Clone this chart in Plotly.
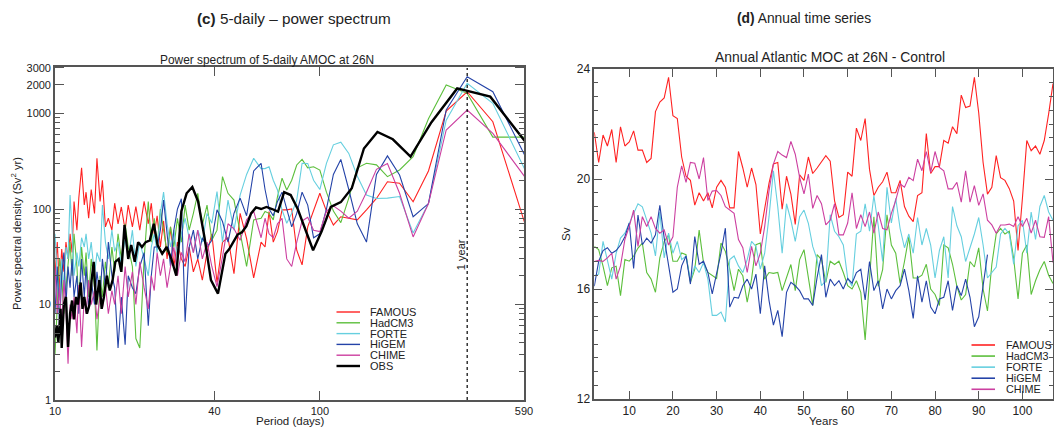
import math
import plotly.graph_objects as go

# ---------------- Panel (c): power spectra ----------------
obs_period = [10, 10.15, 10.3, 10.5, 10.6, 10.8, 11, 11.2, 11.4, 11.6, 11.8, 12,
              12.2, 12.5, 12.7, 12.9, 13.2, 13.5, 13.75, 14, 14.3, 14.7,
              15, 15.3, 15.7, 16.1, 16.5, 16.9, 17.4, 17.8, 18.3, 18.9,
              19.4, 20, 20.6, 21.3, 22, 22.8, 23.6, 24.4, 25.4, 26.4,
              27.5, 28.7, 30, 31.4, 33, 34.7, 36.7, 38.8, 41.25, 44,
              45.5, 47.1, 48.9, 50.8, 52.8, 55, 57.4, 60, 62.9, 66,
              69.5, 73.3, 77.6, 82.5, 88, 94.3, 101.5, 110, 120, 132,
              146.7, 165, 188.6, 220, 264, 330, 440, 660]
obs_psd = [4.5, 6, 4, 9, 3.5, 10, 12, 3.6, 8, 11, 7, 12,
           10, 17, 9, 12, 8, 10, 18, 28, 10, 18,
           9, 12, 20, 14, 18, 28, 30, 22, 68, 30,
           42, 28, 45, 40, 45, 47, 70, 42, 34, 40,
           30, 20, 95, 146, 170, 120, 50, 18, 13, 34,
           38, 45, 54, 57, 66, 90, 104, 100, 105, 100,
           94, 150, 140, 100, 62, 37, 58, 105, 118, 165,
           430, 640, 537, 353, 810, 1830, 1500, 354]

model_period = [10.0, 10.2, 10.4, 10.6, 10.8, 11.0, 11.2, 11.4, 11.6, 11.8,
                12.1, 12.3, 12.6, 12.9, 13.1, 13.4, 13.7, 14.1, 14.4, 14.8,
                15.1, 15.5, 15.9, 16.4, 16.8, 17.3, 17.8, 18.4, 18.9, 19.6,
                20.2, 20.9, 21.7, 22.5, 23.1, 23.7, 24.3, 25.0, 25.7, 26.5,
                27.3, 28.1, 29.0, 30.0, 31.0, 32.1, 33.3, 34.6, 36.0, 37.5,
                39.1, 40.9, 42.9, 45.0, 47.4, 50.0, 52.9, 56.25, 60.0, 62.1,
                64.3, 66.7, 69.2, 72.0, 75.0, 78.3, 81.8, 85.7, 90.0, 94.7,
                100.0, 105.9, 112.5, 120.0, 128.6, 138.5, 150.0, 163.6, 180.0, 200.0,
                225.0, 257.1, 300.0, 360.0, 450.0, 600.0]

famous_psd = [20, 45, 14, 38, 22, 45, 30, 55, 35, 120,
              60, 130, 270, 110, 150, 80, 160, 90, 340, 120,
              200, 65, 80, 60, 115, 70, 105, 60, 110, 65,
              106, 60, 120, 70, 115, 55, 85, 40, 75, 30,
              65, 25, 45, 30, 25, 40, 22, 30, 18, 35,
              55, 17, 45, 50, 21, 90, 49, 19, 45, 40,
              94, 45, 58, 98, 98, 100, 37, 26, 65, 98,
              146, 95, 68, 83, 80, 77, 98, 129, 193, 186,
              119, 250, 1060, 1690, 820, 65]

hadcm3_psd = [3, 10, 30, 20, 8, 15, 25, 45, 20, 55,
              25, 10, 40, 20, 35, 12, 30, 15, 3.3, 20,
              12, 28, 15, 40, 22, 55, 30, 70, 40, 25,
              4.4, 3.5, 30, 120, 45, 80, 40, 100, 60, 35,
              65, 40, 80, 45, 110, 60, 90, 146, 68, 110,
              47, 60, 218, 146, 124, 55, 25, 77, 80, 94,
              90, 77, 135, 210, 158, 200, 289, 330, 270, 277,
              256, 150, 95, 72, 130, 270, 301, 290, 218, 256,
              353, 880, 1990, 1625, 566, 566]

forte_psd = [55, 20, 11, 30, 15, 40, 30, 140, 60, 20,
             35, 25, 50, 40, 55, 30, 45, 20, 35, 28,
             110, 45, 30, 60, 36, 45, 25, 50, 30, 60,
             25, 45, 30, 20, 40, 55, 35, 90, 150, 70,
             40, 60, 30, 55, 80, 50, 35, 60, 45, 90,
             71, 152, 45, 124, 60, 140, 230, 340, 265, 265,
             277, 200, 158, 98, 71, 90, 124, 301, 300, 200,
             160, 300, 470, 500, 382, 220, 140, 129, 130, 135,
             56, 114, 850, 2070, 1280, 245]

higem_psd = [8, 25, 6, 20, 35, 10, 25, 15, 30, 12,
             20, 8, 30, 12, 25, 9, 18, 10, 22, 12,
             30, 15, 45, 20, 15, 3.5, 12, 3.8, 20, 15,
             13, 25, 35, 6, 20, 40, 40, 60, 124, 50,
             25, 60, 100, 128, 6.6, 40, 60, 30, 50, 40,
             47, 98, 74, 45, 90, 130, 85, 250, 301, 160,
             100, 85, 120, 150, 100, 65, 90, 150, 110, 50,
             55, 100, 230, 330, 160, 70, 45, 230, 360, 227,
             83, 114, 1088, 2430, 1690, 346]

chime_psd = [25, 8, 15, 5, 18, 9, 2.4, 10, 7, 12,
             5, 16, 3.6, 12, 8, 18, 10, 14, 7, 12,
             9, 16, 8, 14, 10, 20, 8, 25, 12, 22,
             10, 28, 15, 9, 20, 14, 35, 20, 30, 15,
             25, 40, 20, 35, 28, 55, 35, 60, 30, 45,
             25, 15.4, 31.6, 70, 62, 47, 77, 95, 50, 80,
             55, 50, 70, 80, 30, 25, 45, 75, 82, 60,
             58, 95, 108, 95, 80, 95, 150, 260, 300, 146,
             51, 114, 672, 1088, 620, 209]

ONE_YEAR_DAYS = 360

# ---------------- Panel (d): annual time series ----------------
years = list(range(2, 108))
higem_years = list(range(2, 93))

famous_moc = [21.7, 20.6, 21.6, 21.2, 21.8, 20.6, 21.9, 21.2, 21.35, 21.75,
              21.05, 21.05, 20.6, 20.75, 22.45, 22.8, 22.95, 23.7, 22.3, 22.2,
              20.8, 20.1, 19.95, 19.05, 19.5, 19.2, 19.5, 18.95, 19.7, 19.95,
              19.7, 18.95, 18.95, 21.0, 20.4, 19.7, 20.4, 19.8, 18.0, 18.9,
              19.85, 20.55, 20.6, 18.9, 20.1, 19.45, 18.35, 20.15, 19.95, 20.8,
              20.2, 20.4, 20.65, 20.85, 20.65, 19.2, 18.6, 18.7, 20.25, 20.1,
              21.85, 21.4, 22.2, 20.35, 19.4, 19.7, 19.9, 20.25, 19.5, 19.5,
              19.95, 19.0, 18.65, 18.45, 19.4, 19.5, 21.65, 20.2, 20.45, 20.45,
              21.4, 21.3, 21.9, 21.65, 23.05, 22.6, 22.65, 23.7, 22.4, 20.6,
              19.45, 19.7, 20.85, 20.05, 19.95, 19.65, 19.2, 17.4, 19.3, 21.4,
              21.03, 21.2, 20.9, 21.4, 22.37, 23.47]

hadcm3_moc = [17.55, 17.43, 16.83, 16.12, 16.77, 16.83, 15.76, 17.07, 17.01, 17.19,
              17.49, 17.67, 16.6, 16.36, 15.88, 17.13, 17.73, 17.96, 17.01, 17.01,
              17.31, 17.25, 16.24, 16.72, 18.14, 16.95, 16.6, 16.48, 16.38, 17.67,
              17.37, 16.72, 15.94, 16.72, 16.48, 15.52, 16.36, 17.61, 17.67, 16.36,
              16.6, 16.57, 16.6, 15.94, 16.42, 16.89, 15.94, 17.07, 17.43, 16.42,
              15.4, 17.25, 17.07, 16.24, 17.01, 16.89, 17.01, 16.6, 16.12, 16.0,
              16.3, 15.88, 14.15, 16.36, 18.63, 16.1, 16.7, 18.7, 17.6, 17.3,
              16.2, 17.0, 17.9, 16.4, 16.4, 16.5, 16.9, 16.0, 15.8, 15.4,
              17.6, 17.5, 16.9, 16.1, 15.6, 15.8, 17.0, 16.8, 17.5, 16.0,
              15.2, 16.9, 18.0, 18.2, 18.0, 18.1, 17.1, 15.64, 17.3, 17.6,
              15.8, 16.3, 16.7, 17.0, 16.5, 16.2]

forte_moc = [16.48, 16.54, 17.73, 17.07, 16.36, 17.3, 17.85, 18.03, 18.39, 18.75,
             19.1, 18.99, 18.5, 18.03, 17.2, 18.8, 17.13, 18.03, 17.3, 17.73,
             17.07, 17.2, 16.3, 16.84, 16.6, 16.96, 16.36, 15.04, 15.04, 15.16,
             14.8, 17.07, 17.2, 16.84, 16.6, 17.07, 17.73, 17.55, 16.72, 17.3,
             18.63, 20.3, 18.99, 17.3, 19.1, 18.5, 17.73, 18.63, 18.87, 18.39,
             17.55, 17.07, 16.12, 16.3, 18.7, 18.1, 17.9, 17.6, 16.4, 16.1,
             18.0, 18.1, 19.1, 18.1, 19.4, 18.3, 17.0, 19.7, 18.4, 19.3,
             18.2, 17.5, 18.0, 17.3, 18.6, 17.6, 18.2, 17.6, 16.4, 17.4,
             17.9, 16.4, 19.0, 18.3, 17.9, 17.0, 17.5, 18.0, 18.6, 17.6,
             16.4, 16.6, 16.8, 18.0, 18.2, 18.0, 16.9, 18.3, 18.5, 17.3,
             18.8, 17.8, 19.0, 19.4, 18.8, 18.5]

higem_moc = [16.1, 17.0, 17.4, 17.5, 17.3, 17.4, 17.6, 17.9, 18.4, 16.75,
             18.69, 17.61, 17.85, 17.67, 17.97, 19.04, 17.85, 16.9, 15.88, 16.0,
             16.84, 17.2, 16.18, 17.91, 16.9, 17.01, 16.6, 15.82, 16.54, 17.31,
             18.21, 15.34, 15.7, 15.67, 16.12, 16.36, 16.0, 16.54, 15.1, 16.84,
             15.58, 14.69, 15.22, 14.27, 15.88, 16.24, 16.12, 15.94, 15.64, 15.64,
             15.4, 16.42, 17.25, 15.7, 16.36, 16.12, 16.3, 16.0, 16.38, 16.21,
             16.6, 16.72, 15.6, 17.0, 15.94, 16.3, 15.28, 16.0, 15.64, 15.94,
             16.12, 16.72, 15.94, 14.93, 16.48, 15.52, 16.3, 15.34, 15.1, 15.64,
             15.7, 16.3, 15.22, 16.12, 15.76, 16.36, 15.7, 14.63, 14.99, 16.12,
             17.25]

chime_moc = [17.0, 17.04, 17.0, 17.13, 17.3, 16.36, 16.84, 17.8, 18.27, 18.87,
             17.55, 18.63, 18.27, 18.63, 18.2, 18.03, 18.15, 17.6, 17.9, 19.7,
             20.48, 19.88, 20.6, 20.57, 20.0, 20.78, 19.22, 19.56, 19.58, 19.4,
             18.99, 18.87, 18.75, 17.8, 17.5, 16.6, 17.55, 16.84, 17.3, 18.27,
             19.58, 20.54, 21.0, 20.87, 20.78, 21.37, 20.9, 20.06, 19.46, 20.18,
             18.93, 19.4, 19.1, 18.33, 18.5, 19.1, 17.97, 17.97, 18.4, 19.5,
             18.2, 18.7, 18.27, 18.8, 18.03, 18.8, 18.2, 18.15, 18.75, 19.22,
             19.82, 19.7, 20.06, 19.94, 20.72, 20.3, 21.0, 20.24, 21.0, 20.42,
             20.3, 19.64, 19.64, 19.88, 19.16, 20.3, 19.16, 19.76, 19.04, 19.46,
             18.5, 18.33, 18.03, 18.33, 18.33, 18.36, 18.27, 18.63, 18.27, 18.57,
             18.03, 18.5, 17.9, 17.88, 18.63, 16.96]

psd_ticks = [1, 10, 100, 1000, 2000, 3000]
psd_minor = [2, 3, 4, 5, 6, 7, 8, 9, 20, 30, 40, 50, 60, 70, 80, 90,
             200, 300, 400, 500, 600, 700, 800, 900]
period_ticks = [10, 40, 100, 590]
year_ticks = [10, 20, 30, 40, 50, 60, 70, 80, 90, 100]
sv_ticks = [12, 16, 20, 24]

COLORS = {"FAMOUS": "#ff2222", "HadCM3": "#5cbf3c", "FORTE": "#66cfdf",
          "HiGEM": "#2443a8", "CHIME": "#cc3fa0", "OBS": "#000000"}
FONT = "Liberation Sans, Arial, Helvetica, sans-serif"
W, H = 1054, 429
AX = "#555555"

fig = go.Figure()

spectra = [("FAMOUS", model_period, famous_psd), ("HadCM3", model_period, hadcm3_psd),
           ("FORTE", model_period, forte_psd), ("HiGEM", model_period, higem_psd),
           ("CHIME", model_period, chime_psd)]
for name, per, val in spectra:
    fig.add_trace(go.Scatter(x=per, y=val, mode="lines", name=name,
                             line=dict(color=COLORS[name], width=1.1),
                             xaxis="x", yaxis="y", showlegend=False))
fig.add_trace(go.Scatter(x=obs_period, y=obs_psd, mode="lines", name="OBS",
                         line=dict(color=COLORS["OBS"], width=2.4),
                         xaxis="x", yaxis="y", showlegend=False))
# 1-year marker
fig.add_trace(go.Scatter(x=[ONE_YEAR_DAYS, ONE_YEAR_DAYS], y=[1, 3000], mode="lines",
                         line=dict(color="black", width=1.2, dash="dot"),
                         xaxis="x", yaxis="y", showlegend=False, hoverinfo="skip"))

series = [("FAMOUS", years, famous_moc), ("HadCM3", years, hadcm3_moc),
          ("FORTE", years, forte_moc), ("HiGEM", higem_years, higem_moc),
          ("CHIME", years, chime_moc)]
for name, yr, val in series:
    fig.add_trace(go.Scatter(x=yr, y=val, mode="lines", name=name,
                             line=dict(color=COLORS[name], width=1.1),
                             xaxis="x2", yaxis="y2", showlegend=False))

axis_common = dict(showline=True, linecolor=AX, linewidth=1.6, mirror="allticks",
                   ticks="inside", tickcolor=AX, tickwidth=1.3, showgrid=False,
                   zeroline=False, automargin=False)

fig.update_layout(
    width=W, height=H, margin=dict(l=0, r=0, t=0, b=0, autoexpand=False),
    paper_bgcolor="white", plot_bgcolor="white",
    font=dict(family=FONT, color="#222222"),
    showlegend=False,
    xaxis=dict(domain=[55 / W, 524 / W], type="log", range=[1, math.log10(590)],
               tickvals=period_ticks, ticktext=[str(v) for v in period_ticks],
               ticklen=9, tickfont=dict(size=11), anchor="y", **axis_common),
    yaxis=dict(domain=[1 - 400 / H, 1 - 66.7 / H], type="log", range=[0, 3.49],
               tickvals=psd_ticks, ticktext=[str(v) for v in psd_ticks],
               ticklen=9, tickfont=dict(size=11), anchor="x",
               minor=dict(tickvals=psd_minor, ticklen=5, ticks="inside",
                          tickcolor=AX, tickwidth=1.2),
               **axis_common),
    xaxis2=dict(domain=[594.3 / W, 1053 / W], range=[2, 107],
                tickvals=year_ticks, ticklen=8, tickfont=dict(size=12), anchor="y2",
                **axis_common),
    yaxis2=dict(domain=[1 - 399 / H, 1 - 69 / H], range=[12, 24],
                tickvals=sv_ticks, ticklen=8, tickfont=dict(size=12), anchor="x2",
                minor=dict(dtick=0.5, ticklen=4, ticks="inside", tickcolor=AX,
                           tickwidth=1.2),
                **axis_common),
)


def ann(text, px, py, size, angle=0, xanchor="center", color="#222222"):
    fig.add_annotation(text=text, x=px / W, y=1 - py / H, xref="paper", yref="paper",
                       showarrow=False, xanchor=xanchor, yanchor="middle",
                       textangle=angle, font=dict(size=size, family=FONT, color=color))


ann("<b>(c)</b> 5-daily \u2013 power spectrum", 294, 19, 15.3)
ann("<b>(d)</b> Annual time series", 804, 19, 13.8)
ann("Power spectrum of 5-daily AMOC at 26N", 267, 60, 11.9)
ann("Annual Atlantic MOC at 26N - Control", 830, 57, 13.9)
ann("Period (days)", 290, 421, 11.5)
ann("Years", 823, 421, 11.5)
ann("Power spectral density (Sv<sup>2</sup> yr)", 16, 234, 11.2, angle=-90)
ann("Sv", 566, 234, 11.5, angle=-90)

fig.add_annotation(text="1 year", x=math.log10(ONE_YEAR_DAYS), y=math.log10(33),
                   xref="x", yref="y", showarrow=False, textangle=-90, xshift=-6,
                   font=dict(size=11, family=FONT, color="#222222"))

# manual legends
left_names = ["FAMOUS", "HadCM3", "FORTE", "HiGEM", "CHIME", "OBS"]
for i, name in enumerate(left_names):
    yy = 312 + 10.8 * i
    fig.add_shape(type="line", xref="paper", yref="paper",
                  x0=336.5 / W, x1=360 / W, y0=1 - yy / H, y1=1 - yy / H,
                  line=dict(color=COLORS[name], width=2.4 if name == "OBS" else 1.4))
    ann(name, 368, yy, 11, xanchor="left")

right_names = ["FAMOUS", "HadCM3", "FORTE", "HiGEM", "CHIME"]
for i, name in enumerate(right_names):
    yy = 345 + 11.07 * i
    fig.add_shape(type="line", xref="paper", yref="paper",
                  x0=971.5 / W, x1=995 / W, y0=1 - yy / H, y1=1 - yy / H,
                  line=dict(color=COLORS[name], width=1.6))
    ann(name, 1004, yy, 10.8, xanchor="left")

fig.write_html("out.html", config={"displayModeBar": False})

# remove the browser's default page margin so the figure sits at the page origin
with open("out.html", "r", encoding="utf-8") as f:
    html = f.read()
html = html.replace("<head>", "<head><style>html,body{margin:0;padding:0;overflow:hidden;}</style>", 1)
with open("out.html", "w", encoding="utf-8") as f:
    f.write(html)
